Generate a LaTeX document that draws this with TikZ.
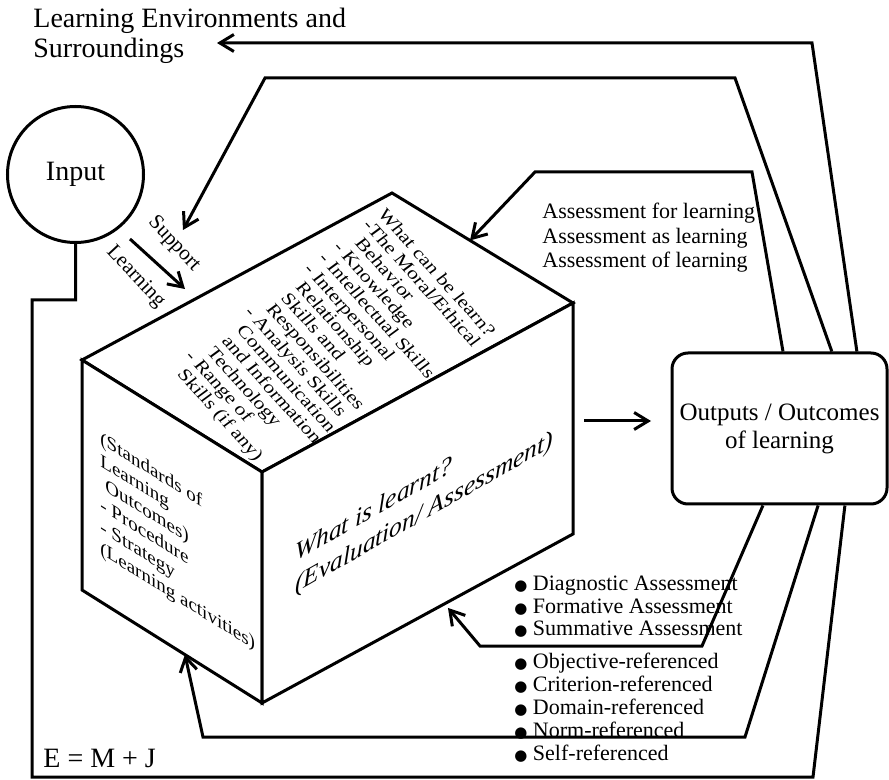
\documentclass[tikz,border=0pt]{standalone}
\usepackage{fontspec}
\setmainfont{Liberation Serif}
\newfontfamily\symbolfont{DejaVu Sans}
\usetikzlibrary{arrows.meta,calc}
\newcommand\contind{\hspace*{5pt}}
\newcommand\bulletmark{{\symbolfont\fontsize{7.5}{8}\selectfont ●}\ }
\begin{document}
\begin{tikzpicture}[x=0.5pt,y=-0.5pt,
  conn/.style={line width=1.5pt, line join=miter},
  arr/.style={conn, -{Straight Barb[length=7pt,width=8.5pt]}},
  face/.style={line width=1.5pt, fill=white, line join=miter},
  txt/.style={inner sep=0pt, align=left},
]
\useasboundingbox (0,0) rectangle (889,780);
\fill[white] (0,0) rectangle (889,780);

% the learning block drawn as a box in perspective
\coordinate (T) at (392,193);
\coordinate (R) at (573,303);
\coordinate (F) at (262,472);
\coordinate (L) at (82,360);
\coordinate (LB) at (82,590);
\coordinate (FB) at (262,703);
\coordinate (RB) at (573,534);
\draw[face] (T) -- (R) -- (F) -- (L) -- cycle;
\draw[face] (L) -- (F) -- (FB) -- (LB) -- cycle;
\draw[face] (F) -- (R) -- (RB) -- (FB) -- cycle;

% texts on the three faces
\node[txt, rotate=-48, xslant=0.1, yscale=0.83, anchor=north west,
      font=\fontsize{10.7}{11}\selectfont] (canlearn) at (387,207)
  {What can be learn?\\
   -The Moral/Ethical\\
   \contind Behavior\\
   - Knowledge\\
   - Intellectual Skills\\
   - Interpersonal\\
   \contind Relationship\\
   \contind Skills and\\
   \contind Responsibilities\\
   - Analysis Skills\\
   \contind Communication\\
   \contind and Information\\
   \contind Technology\\
   - Range of\\
   \contind Skills (if any)};
\node[txt, yslant=-0.62, anchor=north west,
      font=\fontsize{9.5}{11}\selectfont] (standards) at (100,430)
  {(Standards of\\Learning\\\hspace*{2.5pt}Outcomes)\\- Procedure\\- Strategy\\(Learning activities)};
\node[txt, yslant=0.57, anchor=north west,
      font=\fontsize{12.7}{15.8}\selectfont\itshape] (learnt) at (295,544)
  {What is learnt?\\(Evaluation/ Assessment)};

% main nodes
\node[circle, draw, line width=1.5pt, minimum size=68pt, inner sep=0pt,
      font=\fontsize{14}{16}\selectfont] (in) at (75.5,174.5) {Input};
\node[draw, rounded corners=8pt, line width=1.5pt, minimum width=107.5pt,
      minimum height=75.5pt, align=center,
      font=\fontsize{12.5}{14}\selectfont] (out) at (779.5,428.5)
  {Outputs / Outcomes\\of learning};

% labels
\node[txt, anchor=north west, font=\fontsize{14}{15}\selectfont] (env) at (33,8)
  {Learning Environments and\\Surroundings};
\node[txt, anchor=base west, font=\fontsize{14}{16}\selectfont] (emj) at (43,767) {E = M + J};
\node[txt, anchor=north west, font=\fontsize{11}{12.25}\selectfont] (afl) at (542,203)
  {Assessment for learning\\Assessment as learning\\Assessment of learning};
\node[txt, anchor=north west, font=\fontsize{11}{11.1}\selectfont] (types) at (514,576)
  {\bulletmark Diagnostic Assessment\\\bulletmark Formative Assessment\\\bulletmark Summative Assessment};
\node[txt, anchor=north west, font=\fontsize{11}{11.4}\selectfont] (refs) at (514,653)
  {\bulletmark Objective-referenced\\\bulletmark Criterion-referenced\\\bulletmark Domain-referenced\\\bulletmark Norm-referenced\\\bulletmark Self-referenced};
\node[inner sep=0pt, rotate=-47, font=\fontsize{10.5}{12}\selectfont] (sup) at (174,244) {Support};
\node[inner sep=0pt, rotate=-47, font=\fontsize{10.5}{12}\selectfont] (lrn) at (135.5,277) {Learning};

% free arrow ends
\coordinate (lrnA) at (130,239);
\coordinate (lrnB) at (185,289);
\coordinate (envTip) at (217,43);
\coordinate (supTip) at (183,230);
\coordinate (cubeR) at (584,421);

% input support arrow
\draw[arr] (lrnA) -- (lrnB);

% block to outcomes
\draw[arr, shorten >=9.75pt] (cubeR) -- (cubeR -| out.west);

% feedback paths leaving the top of the outcomes box
\draw[arr] ($(out.north west)!0.855!(out.north east)$) -- (812,43) -- (envTip);
\draw[arr] ($(out.north west)!0.74!(out.north east)$) -- (735,78) -- (265,78) -- (supTip);
\draw[arr] ($(out.north west)!0.516!(out.north east)$) -- (752,172) -- (535,172) -- ($(T)!0.431!(R)$);

% feedback paths leaving the bottom of the outcomes box
\draw[arr] ($(out.south west)!0.424!(out.south east)$) -- (702,646) -- (480,646) -- ($(FB)!0.598!(RB)+(0,6)$);
\draw[arr] ($(out.south west)!0.677!(out.south east)$) -- (745,737) -- (203,737) -- ($(LB)!0.572!(FB)$);
\draw[conn] ($(out.south west)!0.80!(out.south east)$) -- (813,777) -- (32,777) -- (32,300) -| (in.south);
\end{tikzpicture}
\end{document}
